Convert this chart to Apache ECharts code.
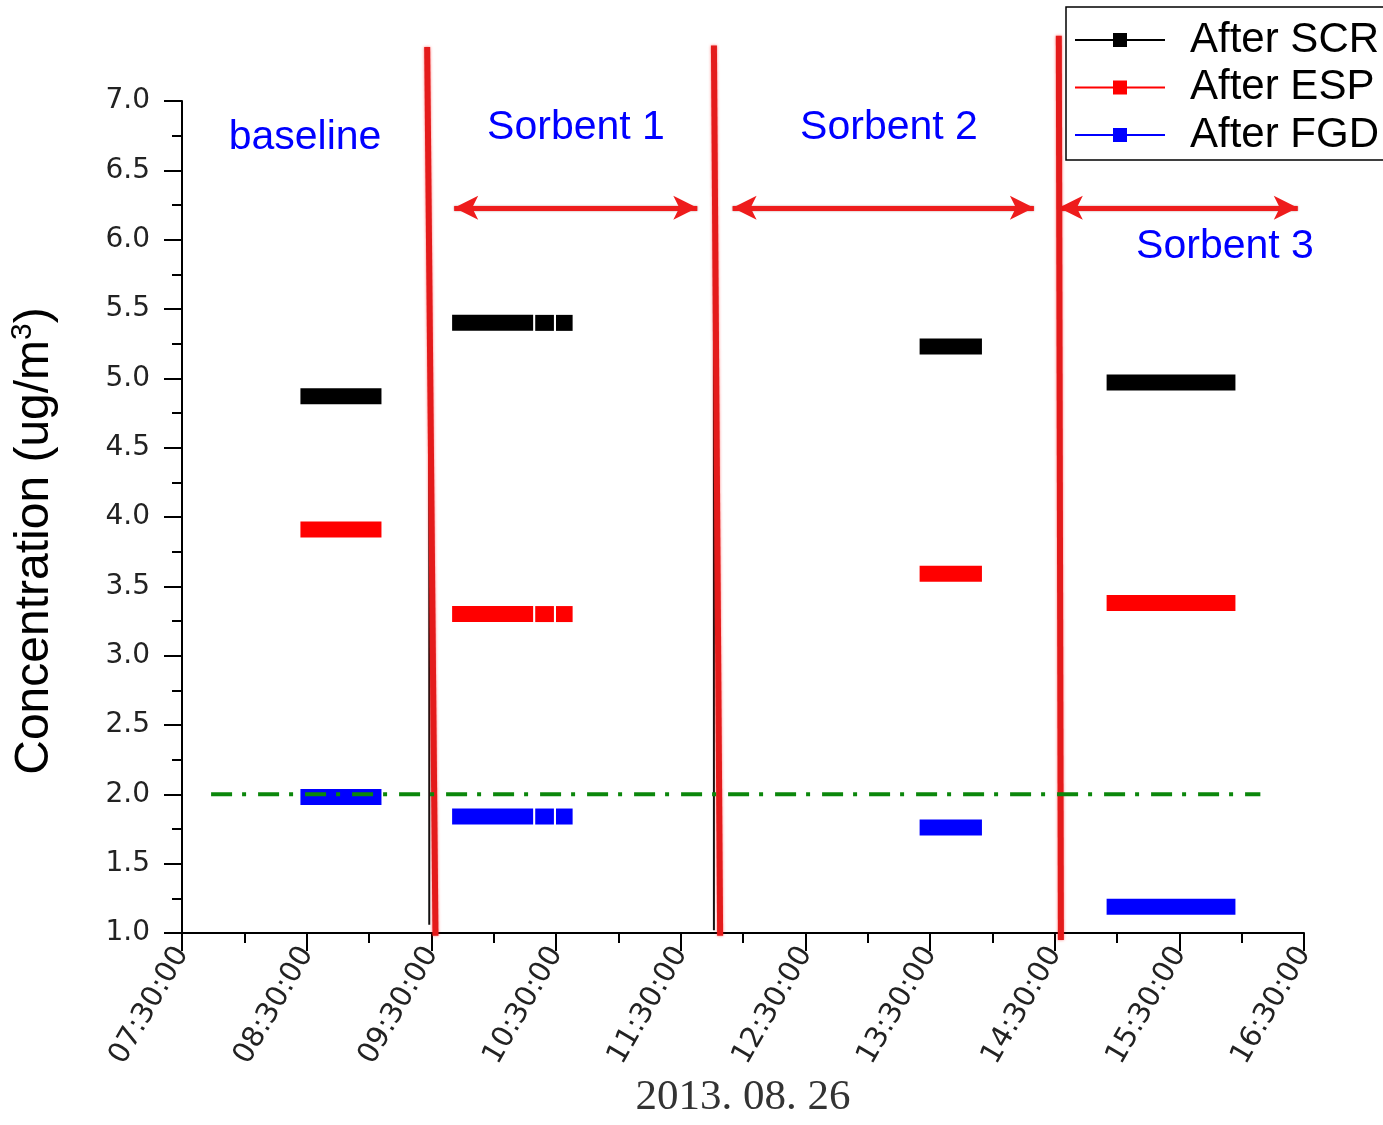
<!DOCTYPE html>
<html>
<head>
<meta charset="utf-8">
<title>Mercury concentration by sorbent test</title>
<script src="https://cdn.jsdelivr.net/npm/echarts@6/dist/echarts.min.js"></script>
<style>
  html, body { margin: 0; padding: 0; background: #fff; }
  #chart { width: 1383px; height: 1125px; }
</style>
</head>
<body>
<div id="chart"></div>
<script>
// Test periods and the sampling windows (clock time) within each of them
const periodLabels = ['baseline', 'Sorbent 1', 'Sorbent 2', 'Sorbent 3'];
const sampleWindows = [
  [['08:27', '09:06']],
  [['09:40', '10:19'], ['10:20', '10:29'], ['10:30', '10:38']],
  [['13:25', '13:55']],
  [['14:55', '15:57']]
];

// Concentrations (ug/m3) per period at each measuring point
const seriesNames = ['After SCR', 'After ESP', 'After FGD'];
const afterSCR = [4.87, 5.40, 5.23, 4.97];
const afterESP = [3.91, 3.30, 3.59, 3.38];
const afterFGD = [1.98, 1.84, 1.76, 1.19];

// Axis ticks
const timeTicks = ['07:30:00', '08:30:00', '09:30:00', '10:30:00', '11:30:00',
                   '12:30:00', '13:30:00', '14:30:00', '15:30:00', '16:30:00'];
const valueMin = 1.0, valueMax = 7.0, valueStep = 0.5;
const testDate = '2013. 08. 26';

// Emission limit (dash-dot reference line)
const limitLevel = 2.0;
const limitSpan = ['07:44', '16:09'];

// Period separators (slanted red strokes) and the plain markers under them
const dividerTopTime = ['09:28', '11:46', '14:32'];
const dividerBottomTime = ['09:32', '11:49', '14:33'];
const dividerTopValue = [7.39, 7.40, 7.47];
const dividerBottomValue = [0.98, 0.98, 0.95];
const markerTime = ['09:29', '11:46'];
const markerTopValue = [6.29, 6.22];
const markerBottomValue = [1.06, 1.02];

// Double-headed arrows spanning each sorbent test
const arrowFrom = ['09:41', '11:55', '14:32'];
const arrowTo = ['11:38', '14:20', '16:27'];
const arrowLevel = 6.23;

const toHour = s => { const p = s.split(':').map(Number); return p[0] + p[1] / 60; };

const colors = { 'After SCR': '#000000', 'After ESP': '#ff0000', 'After FGD': '#0000ff' };
const valuesByName = { 'After SCR': afterSCR, 'After ESP': afterESP, 'After FGD': afterFGD };

const series = [];

// Thick horizontal bars: one line segment per sampling window
seriesNames.forEach(name => {
  const vals = valuesByName[name];
  sampleWindows.forEach((windows, pi) => {
    windows.forEach(w => {
      series.push({
        name: name,
        type: 'line',
        data: [[toHour(w[0]), vals[pi]], [toHour(w[1]), vals[pi]]],
        symbol: 'none',
        lineStyle: { color: colors[name], width: 16, cap: 'butt' },
        itemStyle: { color: colors[name] },
        z: 3,
        silent: true
      });
    });
  });
});

// Thin markers under the separators
markerTime.forEach((t, i) => {
  series.push({
    type: 'line',
    data: [[toHour(t), markerTopValue[i]], [toHour(t), markerBottomValue[i]]],
    symbol: 'none',
    lineStyle: { color: '#111', width: 2 },
    z: 4,
    silent: true
  });
});

// Red slanted separators between periods
dividerTopTime.forEach((t, i) => {
  series.push({
    type: 'line',
    clip: false,
    data: [[toHour(t), dividerTopValue[i]], [toHour(dividerBottomTime[i]), dividerBottomValue[i]]],
    symbol: 'none',
    lineStyle: { color: '#e41b1b', width: 6, shadowColor: 'rgba(255,0,0,0.55)', shadowBlur: 3 },
    z: 6,
    silent: true
  });
});

// Limit line, carrying the period arrows as mark lines
series.push({
  type: 'line',
  data: [[toHour(limitSpan[0]), limitLevel], [toHour(limitSpan[1]), limitLevel]],
  symbol: 'none',
  lineStyle: { color: '#0b870b', width: 4, type: [21, 10, 4, 12], cap: 'butt' },
  z: 7,
  silent: true,
  markLine: {
    silent: true,
    symbol: ['arrow', 'arrow'],
    symbolSize: [18, 24],
    label: { show: false },
    lineStyle: { color: '#ee1c1c', width: 5, type: 'solid', shadowColor: 'rgba(120,0,0,0.5)', shadowBlur: 2 },
    itemStyle: { color: '#ee1c1c' },
    data: arrowFrom.map((t, i) => [
      { coord: [toHour(t), arrowLevel] },
      { coord: [toHour(arrowTo[i]), arrowLevel] }
    ])
  }
});

// Legend icon: short line with a square marker in the middle
const legendIcon = 'path://M0,6H38V8H0Z M38,0H52V14H38Z M52,6H90V8H52Z';
const periodFont = '41px "Liberation Sans"';

const option = {
  animation: false,
  backgroundColor: '#ffffff',
  textStyle: { fontFamily: 'Liberation Sans' },
  grid: { left: 182, right: 79, top: 101, bottom: 192 },
  legend: {
    orient: 'vertical',
    left: 1066,
    top: 7,
    data: seriesNames.map(n => ({ name: n, icon: legendIcon, itemStyle: { color: colors[n] } })),
    itemWidth: 90,
    itemHeight: 14,
    itemGap: 5.5,
    padding: [12, 6, 4, 9],
    borderColor: '#000',
    borderWidth: 1.5,
    selectedMode: false,
    textStyle: { fontSize: 42, color: '#000', lineHeight: 42, padding: [0, 0, 0, 20] }
  },
  xAxis: {
    type: 'value',
    min: toHour(timeTicks[0]),
    max: toHour(timeTicks[timeTicks.length - 1]),
    interval: 1,
    name: testDate,
    nameLocation: 'middle',
    nameGap: 142,
    nameTextStyle: { fontFamily: 'Liberation Serif', fontSize: 43, color: '#333' },
    axisLine: { onZero: false, lineStyle: { color: '#000', width: 2 } },
    axisTick: { length: 18, lineStyle: { color: '#000', width: 2 } },
    minorTick: { show: true, splitNumber: 2, length: 10, lineStyle: { color: '#000', width: 2 } },
    splitLine: { show: false },
    axisLabel: {
      rotate: 60,
      margin: 16,
      fontFamily: 'DejaVu Sans',
      fontSize: 29,
      color: '#222',
      formatter: v => timeTicks[Math.round(v - toHour(timeTicks[0]))] || ''
    }
  },
  yAxis: {
    type: 'value',
    min: valueMin,
    max: valueMax,
    interval: valueStep,
    name: 'Concentration (ug/m{sup|3})',
    nameLocation: 'middle',
    nameRotate: 90,
    nameGap: 120,
    nameTextStyle: {
      fontSize: 48, color: '#000', lineHeight: 54,
      padding: [0, 48, 0, 0],
      rich: { sup: { fontSize: 30, lineHeight: 32, verticalAlign: 'top', color: '#000' } }
    },
    axisLine: { onZero: false, lineStyle: { color: '#000', width: 2 } },
    axisTick: { length: 18, lineStyle: { color: '#000', width: 2 } },
    minorTick: { show: true, splitNumber: 2, length: 10, lineStyle: { color: '#000', width: 2 } },
    splitLine: { show: false },
    axisLabel: {
      margin: 32,
      fontFamily: 'DejaVu Sans',
      fontSize: 28,
      color: '#222',
      formatter: v => v.toFixed(1)
    }
  },
  graphic: [
    { type: 'text', x: 305, y: 138, style: { text: periodLabels[0], fill: '#0000ff', font: periodFont, align: 'center', verticalAlign: 'middle' } },
    { type: 'text', x: 576, y: 128, style: { text: periodLabels[1], fill: '#0000ff', font: periodFont, align: 'center', verticalAlign: 'middle' } },
    { type: 'text', x: 889, y: 128, style: { text: periodLabels[2], fill: '#0000ff', font: periodFont, align: 'center', verticalAlign: 'middle' } },
    { type: 'text', x: 1225, y: 247, style: { text: periodLabels[3], fill: '#0000ff', font: periodFont, align: 'center', verticalAlign: 'middle' } }
  ],
  series: series
};

const chart = echarts.init(document.getElementById('chart'), null, { renderer: 'canvas' });
chart.setOption(option);
</script>
</body>
</html>
